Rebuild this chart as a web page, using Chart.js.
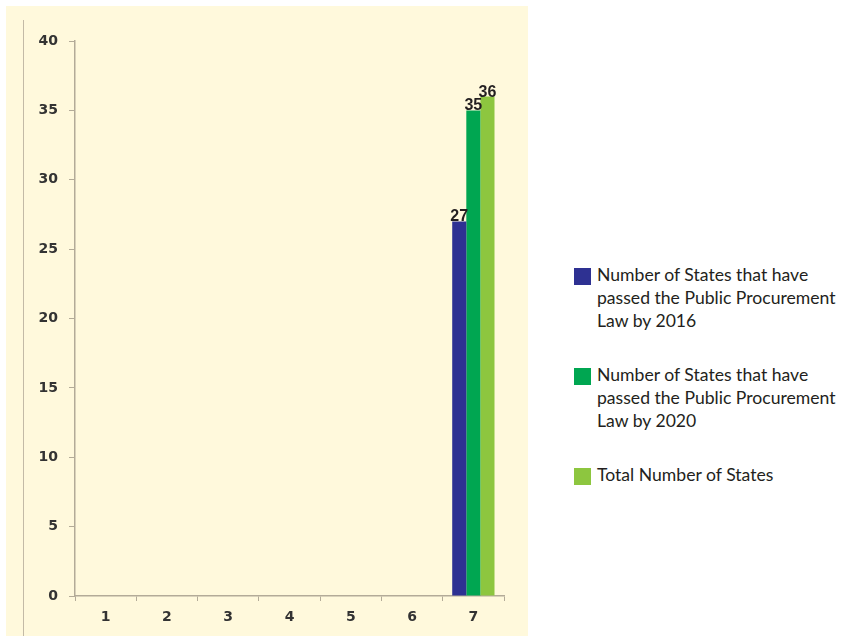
<!DOCTYPE html>
<html>
<head>
<meta charset="utf-8">
<script src="https://cdn.jsdelivr.net/npm/chart.js@4/dist/chart.umd.min.js"></script>
<style>
  html, body { margin: 0; padding: 0; background: #fff; }
  body { width: 842px; height: 636px; position: relative; overflow: hidden; }
  #painel { position: absolute; left: 6px; top: 6px; width: 522px; height: 630px; background: #fff9dc; }
  #painel canvas { position: absolute; left: 0; top: 0; }
  #borda { position: absolute; left: 17px; top: 14px; width: 1px; height: 620px; background: #c3baa6; }
  #legenda { position: absolute; left: 574px; top: 263px; width: 266px;
             font-family: Lato, "Open Sans", sans-serif; font-size: 17.6px; line-height: 23px; color: #231f20; }
  .item { display: flex; align-items: flex-start; margin-bottom: 31px; }
  .cor { flex: 0 0 17px; height: 17px; margin-top: 5px; margin-right: 6px; }
</style>
</head>
<body>
<div id="painel">
  <div id="borda"></div>
  <canvas id="grafico-estados" width="522" height="630"></canvas>
</div>
<div id="legenda"></div>

<script>
// Dados do gráfico
const categorias = ['1', '2', '3', '4', '5', '6', '7'];
const leiAte2016 = [null, null, null, null, null, null, 27];
const leiAte2020 = [null, null, null, null, null, null, 35];
const totalEstados = [null, null, null, null, null, null, 36];
const nomesSeries = [
    'Number of States that have passed the Public Procurement Law by 2016',
    'Number of States that have passed the Public Procurement Law by 2020',
    'Total Number of States'
];
const coresSeries = ['#2e3192', '#00a651', '#8dc63f'];
const ticksY = [0, 5, 10, 15, 20, 25, 30, 35, 40];

const corEixo = '#b3ab98';

// Rótulos com o valor em cima de cada barra
const rotulosValores = {
    id: 'rotulosValores',
    afterDatasetsDraw(chart) {
        const ctx = chart.ctx;
        ctx.save();
        ctx.font = 'bold 16px "Liberation Sans", Arial, sans-serif';
        ctx.fillStyle = '#231f20';
        ctx.textAlign = 'center';
        ctx.textBaseline = 'alphabetic';
        chart.data.datasets.forEach((ds, i) => {
            chart.getDatasetMeta(i).data.forEach((bar, j) => {
                const v = ds.data[j];
                if (v === null || v === undefined) return;
                ctx.fillText(String(v), bar.x, bar.y);
            });
        });
        ctx.restore();
    }
};

const fonteTicks = { family: '"DejaVu Sans", Verdana, sans-serif', size: 14, weight: 'bold' };

const grafico = new Chart(document.getElementById('grafico-estados'), {
    type: 'bar',
    data: {
        labels: categorias,
        datasets: [leiAte2016, leiAte2020, totalEstados].map((d, i) => ({
            label: nomesSeries[i],
            data: d,
            backgroundColor: coresSeries[i],
            borderWidth: 0,
            categoryPercentage: 0.69,
            barPercentage: 1
        }))
    },
    options: {
        responsive: false,
        animation: false,
        layout: { padding: { top: 35, right: 24, left: 0, bottom: 0 } },
        plugins: {
            legend: { display: false },
            tooltip: { enabled: false }
        },
        scales: {
            x: {
                grid: { display: true, drawOnChartArea: false, tickLength: 5, color: corEixo, offset: true },
                border: { color: corEixo, width: 1.5 },
                ticks: { color: '#333', font: fonteTicks, padding: 8 },
                afterFit: s => { s.height = 40; }
            },
            y: {
                min: 0,
                max: 40,
                afterBuildTicks: s => { s.ticks = ticksY.map(v => ({ value: v })); },
                grid: { display: true, drawOnChartArea: false, tickLength: 6, color: corEixo },
                border: { color: corEixo, width: 1.5 },
                ticks: { color: '#333', font: fonteTicks, padding: 11 },
                afterFit: s => { s.width = 69; }
            }
        }
    },
    plugins: [rotulosValores]
});

// Legenda em HTML, com quebra de linha automática
const legenda = document.getElementById('legenda');
grafico.data.datasets.forEach(ds => {
    const item = document.createElement('div');
    item.className = 'item';
    const cor = document.createElement('span');
    cor.className = 'cor';
    cor.style.background = ds.backgroundColor;
    const texto = document.createElement('span');
    texto.textContent = ds.label;
    item.appendChild(cor);
    item.appendChild(texto);
    legenda.appendChild(item);
});
</script>
</body>
</html>
